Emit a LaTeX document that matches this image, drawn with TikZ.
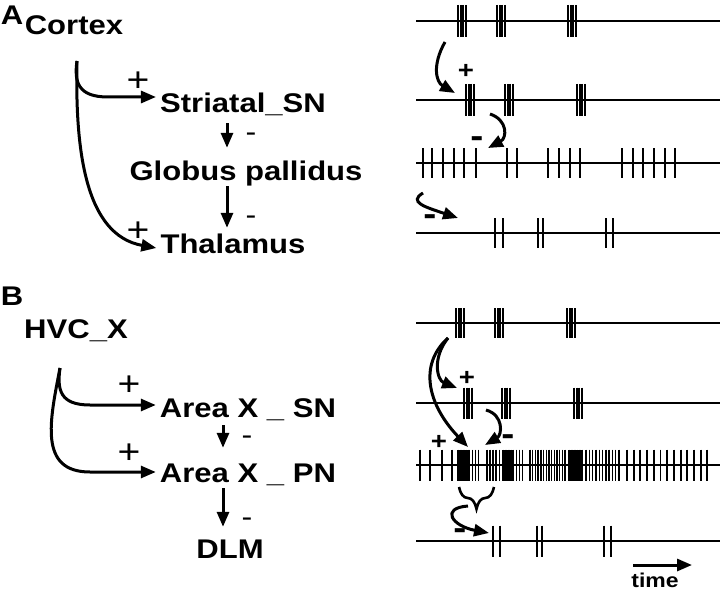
\documentclass[tikz,border=0pt]{standalone}
\usepackage{fontspec}
\setmainfont{Liberation Sans}[FakeStretch=1.15]
\usetikzlibrary{arrows.meta, decorations.pathreplacing}
\tikzset{>={Triangle[length=15pt,width=12pt]}}

% one spike train: base line, single spikes, bursts of four
\newcommand{\train}[1]{\draw[trainline] (416,#1) -- (720,#1);}
\newcommand{\ticks}[3]{\foreach \sx in {#3} \draw[spike] (\sx,#1-#2) -- (\sx,#1+#2);}
\newcommand{\bursts}[3]{\foreach \c in {#3} {\foreach \dx in {-4.2,-1.4,1.4,4.2} \draw[spike] (\c+\dx,#1-#2) -- (\c+\dx,#1+#2);}}

\begin{document}
\begin{tikzpicture}[x=1pt, y=-1pt,
  area/.style={font=\fontsize{27}{30}\selectfont\bfseries, inner sep=0pt, text height=19pt, text depth=6pt, anchor=base},
  panel/.style={font=\fontsize{27}{30}\selectfont\bfseries, inner sep=0pt},
  plus/.style={font=\fontsize{34}{36}\selectfont, inner sep=0pt},
  minus/.style={font=\fontsize{28}{30}\selectfont, inner sep=0pt, text height=12pt, text depth=0pt},
  tplus/.style={font=\fontsize{24}{26}\selectfont\bfseries, inner sep=0pt},
  tminus/.style={font=\fontsize{34}{36}\selectfont\bfseries, inner sep=0pt},
  timelab/.style={font=\fontsize{20}{22}\selectfont\bfseries, inner sep=0pt},
  link/.style={line width=3pt, ->},
  trainline/.style={line width=2.6pt},
  spike/.style={line width=1.9pt},
  thinspike/.style={line width=1.4pt}]
\useasboundingbox (0,0) rectangle (720,591);

% ---- A: cortex loop
\node[panel] (labA) at (12,15) {A};
\node[area] (cortex) at (74,35) {Cortex};
\node[area] (striatal) at (243,113) {Striatal\_SN};
\node[area] (globus) at (246,180) {Globus pallidus};
\node[area] (thalamus) at (233,253) {Thalamus};
\coordinate (ctxfoot) at (77,61);
\draw[link] (ctxfoot) .. controls (74,82) and (78,97) .. (108,97) -- ([xshift=-4pt,yshift=16pt]striatal.base west);
\draw[link] (ctxfoot) .. controls (75,150) and (85,235) .. ([xshift=-4pt,yshift=5pt]thalamus.base west);
\node[plus] (plusA1) at (138,82) {+};
\node[plus] (plusA2) at (138,232) {+};
\draw[link, shorten <=4pt, shorten >=13pt] ([xshift=-16pt]striatal.south) -- ([xshift=-19pt]globus.north)
  node[minus, pos=0.38, right=17pt] (minA1) {-};
\draw[link, shorten >=6pt] ([xshift=-19pt]globus.south) -- ([xshift=-6pt]thalamus.north)
  node[minus, pos=0.68, right=17pt] (minA2) {-};

% ---- A: spike trains
\train{21} \bursts{21}{16}{462,501,572}
\train{100} \bursts{100}{16}{470,509,581}
\train{163} \ticks{163}{14.5}{423,432,443,454,464,476,507,517,548,559,570,580,622,633,643,654,665,675}
\train{233} \ticks{233}{15}{495,503,538,543,606,613}
\draw[link] (445,42) .. controls (432,65) and (436,82) .. (455,93);
\node[tplus] (tpA) at (466,71) {+};
\draw[link] (490,114) .. controls (508,120) and (507,138) .. (488,148);
\node[tminus] (tmA1) at (477,142) {-};
\draw[link] (423,193) .. controls (408,202) and (425,207) .. (458,218);
\node[tminus] (tmA2) at (430,220) {-};

% ---- B: song loop
\node[panel] (labB) at (12,296) {B};
\node[area] (hvc) at (76,338) {HVC\_X};
\node[area] (areasn) at (248,417) {Area X \_ SN};
\node[area] (areapn) at (248,482) {Area X \_ PN};
\node[area] (dlm) at (230,558) {DLM};
\coordinate (hvcfoot) at (60,368);
\draw[link] (hvcfoot) .. controls (57,390) and (60,405) .. (90,405) -- ([xshift=-4pt,yshift=12pt]areasn.base west);
\draw[link] (hvcfoot) .. controls (50,420) and (38,472) .. (90,472) -- ([xshift=-4pt,yshift=10pt]areapn.base west);
\node[plus] (plusB1) at (129,386) {+};
\node[plus] (plusB2) at (129,454) {+};
\draw[link, shorten <=2pt, shorten >=15pt] ([xshift=-25pt]areasn.south) -- ([xshift=-25pt]areapn.north)
  node[minus, pos=0.38, right=17pt] (minB1) {-};
\draw[link, shorten >=12pt] ([xshift=-25pt]areapn.south) -- ([xshift=-7pt]dlm.north)
  node[minus, pos=0.63, right=17pt] (minB2) {-};

% ---- B: spike trains
\train{323} \bursts{323}{15}{460,499,571}
\train{403} \bursts{403}{15.5}{468,506,578}
\train{465}
\ticks{465}{15.5}{420,430,442,452,472.5,475.5,478.5,487,490,493,496,499.5,516.5,519.5,522.5}
\ticks{465}{15.5}{458,459.6,...,470}
\ticks{465}{15.5}{503,504.6,...,513}
\foreach \sx in {530,532.7,...,567} \draw[thinspike] (\sx,449.5) -- (\sx,480.5);
\ticks{465}{15.5}{569,570.6,...,582}
\foreach \sx in {586,589.3,...,620} \draw[thinspike] (\sx,449.5) -- (\sx,480.5);
\ticks{465}{15.5}{627,633.7,...,708}
\train{541} \ticks{541}{15.5}{493,500,537,542,604,611}
\draw[link] (448,338) .. controls (432,358) and (437,380) .. (457,388);
\draw[link] (448,338) .. controls (418,365) and (428,405) .. (468,447);
\node[tplus] (tpB1) at (467,378) {+};
\node[tplus] (tpB2) at (439,442) {+};
\draw[link] (486,410) .. controls (504,415) and (502,435) .. (485,445);
\node[tminus] (tmB1) at (508,440) {-};
\draw[line width=2.6pt, decorate, decoration={brace, amplitude=22pt}] (494,487) -- (459,487);
\draw[link] (468,506) .. controls (440,508) and (452,526) .. (489,533);
\node[tminus] (tmB2) at (460,534) {-};

% time axis
\coordinate (t0) at (633,565);
\coordinate (t1) at (692,565);
\draw[link] (t0) -- (t1);
\node[timelab] (timetext) at (655,580) {time};
\end{tikzpicture}
\end{document}
